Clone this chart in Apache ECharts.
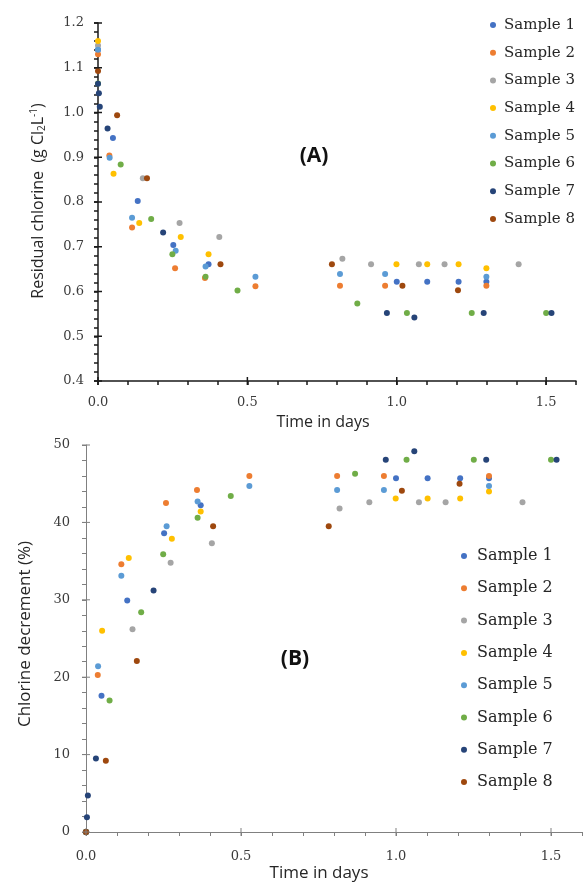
<!DOCTYPE html>
<html><head><meta charset="utf-8">
<script src="https://cdn.jsdelivr.net/npm/echarts@6/dist/echarts.min.js"></script>
<style>html,body{margin:0;padding:0;background:#fff}#c{width:585px;height:885px}</style>
</head><body><div id="c"></div>
<script>
// ---- Data (time in days, residual chlorine g Cl2/L, chlorine decrement %) ----
const sampleNames = ['Sample 1','Sample 2','Sample 3','Sample 4','Sample 5','Sample 6','Sample 7','Sample 8'];
const colors = ['#4472C4','#ED7D31','#A5A5A5','#FFC000','#5B9BD5','#70AD47','#264478','#9E480E'];

const t1   = [0, 0.05, 0.133, 0.252, 0.37, 1.0, 1.102, 1.207, 1.3];
const res1 = [1.14, 0.943, 0.802, 0.704, 0.661, 0.622, 0.622, 0.622, 0.622];
const dec1 = [0, 17.6, 29.9, 38.6, 42.2, 45.7, 45.7, 45.7, 45.7];

const t2   = [0, 0.038, 0.114, 0.258, 0.358, 0.527, 0.81, 0.961, 1.3];
const res2 = [1.13, 0.904, 0.743, 0.652, 0.63, 0.612, 0.613, 0.613, 0.613];
const dec2 = [0, 20.3, 34.6, 42.5, 44.2, 46.0, 46.0, 46.0, 46.0];

const t3   = [0, 0.15, 0.273, 0.406, 0.818, 0.914, 1.074, 1.16, 1.408];
const res3 = [1.15, 0.853, 0.753, 0.722, 0.673, 0.661, 0.661, 0.661, 0.661];
const dec3 = [0, 26.2, 34.8, 37.3, 41.8, 42.6, 42.6, 42.6, 42.6];

const t4   = [0, 0.052, 0.138, 0.277, 0.37, 0.999, 1.102, 1.207, 1.3];
const res4 = [1.16, 0.863, 0.753, 0.722, 0.683, 0.661, 0.661, 0.661, 0.652];
const dec4 = [0, 26.0, 35.4, 37.9, 41.4, 43.1, 43.1, 43.1, 44.0];

const t5   = [0, 0.039, 0.114, 0.26, 0.36, 0.527, 0.81, 0.961, 1.3];
const res5 = [1.14, 0.899, 0.765, 0.691, 0.656, 0.633, 0.639, 0.639, 0.633];
const dec5 = [0, 21.4, 33.1, 39.5, 42.7, 44.7, 44.2, 44.2, 44.7];

const t6   = [0, 0.076, 0.178, 0.249, 0.36, 0.467, 0.868, 1.034, 1.251, 1.5];
const res6 = [1.065, 0.884, 0.762, 0.683, 0.633, 0.602, 0.573, 0.552, 0.552, 0.552];
const dec6 = [0, 17.0, 28.4, 35.9, 40.6, 43.4, 46.3, 48.1, 48.1, 48.1];

const t7   = [0, 0.003, 0.006, 0.032, 0.218, 0.967, 1.059, 1.291, 1.518];
const res7 = [1.064, 1.043, 1.013, 0.964, 0.732, 0.552, 0.542, 0.552, 0.552];
const dec7 = [0, 1.9, 4.7, 9.5, 31.2, 48.1, 49.2, 48.1, 48.1];

const t8   = [0, 0.064, 0.164, 0.41, 0.783, 1.019, 1.205];
const res8 = [1.093, 0.994, 0.853, 0.661, 0.661, 0.613, 0.603];
const dec8 = [0, 9.2, 22.1, 39.5, 39.5, 44.1, 45.0];

// ---- Tick values ----
const xTickLabels = [0, 0.5, 1.0, 1.5];
const yTickLabelsA = [0.4, 0.5, 0.6, 0.7, 0.8, 0.9, 1.0, 1.1, 1.2];
const yTickLabelsB = [0, 10, 20, 30, 40, 50];

const times = [t1,t2,t3,t4,t5,t6,t7,t8];
const residual = [res1,res2,res3,res4,res5,res6,res7,res8];
const decrement = [dec1,dec2,dec3,dec4,dec5,dec6,dec7,dec8];

// ---- Chart ----
const chart = echarts.init(document.getElementById('c'));
const serif = 'DejaVu Serif';
const sans = 'Open Sans';
const labelColor = '#3b3b3b';

function isIn(list, v){ return list.some(x => Math.abs(x - v) < 1e-6); }

function mainX(grid, lineColor, lw, margin){
  return {type:'value', gridIndex:grid, min:0, max:1.6, interval:0.1,
    axisLine:{show:true, onZero:false, lineStyle:{color:lineColor, width:lw}},
    axisTick:{show:true, inside:false, length:4, lineStyle:{color:lineColor, width:lw}},
    axisLabel:{margin:margin, color:labelColor, fontFamily:serif, fontSize:13,
      formatter:v => isIn(xTickLabels, v) ? v.toFixed(1) : ''},
    splitLine:{show:false}};
}
function mainY(grid, min, max, minor, labels, digits, lineColor, lw, margin){
  return {type:'value', gridIndex:grid, min:min, max:max, interval:minor,
    axisLine:{show:true, onZero:false, lineStyle:{color:lineColor, width:lw}},
    axisTick:{show:true, inside:false, length:4, lineStyle:{color:lineColor, width:lw}},
    axisLabel:{margin:margin, color:labelColor, fontFamily:serif, fontSize:13,
      formatter:v => isIn(labels, v) ? v.toFixed(digits) : ''},
    splitLine:{show:false}};
}

// major cross ticks: small rect marks placed on the axis lines through the axes' own scales
function tickSeries(axisIdx, data, size, color){
  return {type:'scatter', name:'_ticks', xAxisIndex:axisIdx, yAxisIndex:axisIdx, silent:true, clip:false,
    symbol:'rect', symbolSize:size, z:3,
    itemStyle:{color:color, opacity:1}, emphasis:{disabled:true}, data:data};
}

const series = [];
for (let i = 0; i < 8; i++) {
  series.push({name:sampleNames[i], type:'scatter', xAxisIndex:0, yAxisIndex:0, symbolSize:6, z:2,
    itemStyle:{color:colors[i], opacity:1}, emphasis:{disabled:true},
    data: times[i].map((t, k) => [t, residual[i][k]])});
}
for (let i = 0; i < 8; i++) {
  series.push({name:sampleNames[i], type:'scatter', xAxisIndex:1, yAxisIndex:1, symbolSize:6, z:2,
    itemStyle:{color:colors[i], opacity:1}, emphasis:{disabled:true},
    data: times[i].map((t, k) => [t, decrement[i][k]])});
}
series.push(tickSeries(0, xTickLabels.map(v => [v, 0.4]), [1.5, 8], '#1a1a1a'));
series.push(tickSeries(0, yTickLabelsA.map(v => [0, v]), [8, 1.5], '#1a1a1a'));
series.push(tickSeries(1, xTickLabels.map(v => [v, 0]), [1, 8], '#808080'));
series.push(tickSeries(1, yTickLabelsB.map(v => [0, v]), [8, 1], '#808080'));

const option = {
  animation:false,
  backgroundColor:'#ffffff',
  grid:[
    {left:98, top:23, width:478, height:358},
    {left:86, top:445, width:498, height:387}
  ],
  xAxis:[ mainX(0,'#1a1a1a',1.5,15), mainX(1,'#808080',1,18) ],
  yAxis:[ mainY(0,0.4,1.2,0.02,yTickLabelsA,1,'#1a1a1a',1.5,14),
          mainY(1,0,50,2,yTickLabelsB,0,'#808080',1,16) ],
  legend:[
    {orient:'vertical', left:490, top:15, padding:0, itemGap:7.7, itemWidth:6, itemHeight:6, icon:'circle',
     selectedMode:false, data:sampleNames,
     textStyle:{fontFamily:serif, fontSize:15, color:'#262626', lineHeight:20, padding:[0,0,0,3]}},
    {orient:'vertical', left:461, top:546, padding:0, itemGap:12.3, itemWidth:6, itemHeight:6, icon:'circle',
     selectedMode:false, data:sampleNames,
     textStyle:{fontFamily:serif, fontSize:16, color:'#262626', lineHeight:20, padding:[0,0,0,5]}}
  ],
  graphic:[
    {type:'text', x:38, y:201, rotation:Math.PI/2, style:{
      text:'Residual chlorine  (g Cl{sub|2}L{sup|-1})', fontFamily:sans, fontSize:16, fill:'#262626',
      align:'center', verticalAlign:'middle',
      rich:{sub:{fontSize:10, fontFamily:sans, fill:'#262626', padding:[8,0,0,0]},
            sup:{fontSize:10, fontFamily:sans, fill:'#262626', padding:[0,0,8,0]}}}},
    {type:'text', x:323, y:422, style:{text:'Time in days', fontFamily:sans, fontSize:16, fill:'#262626', align:'center', verticalAlign:'middle'}},
    {type:'text', x:314, y:156, style:{text:'(A)', fontFamily:sans, fontSize:21, fontWeight:'bold', fill:'#111', align:'center', verticalAlign:'middle'}},
    {type:'text', x:25, y:634, rotation:Math.PI/2, style:{text:'Chlorine decrement (%)', fontFamily:sans, fontSize:17, fill:'#262626', align:'center', verticalAlign:'middle'}},
    {type:'text', x:319, y:873, style:{text:'Time in days', fontFamily:sans, fontSize:17, fill:'#262626', align:'center', verticalAlign:'middle'}},
    {type:'text', x:295, y:659, style:{text:'(B)', fontFamily:sans, fontSize:21, fontWeight:'bold', fill:'#111', align:'center', verticalAlign:'middle'}}
  ],
  series:series
};
chart.setOption(option);
</script></body></html>
